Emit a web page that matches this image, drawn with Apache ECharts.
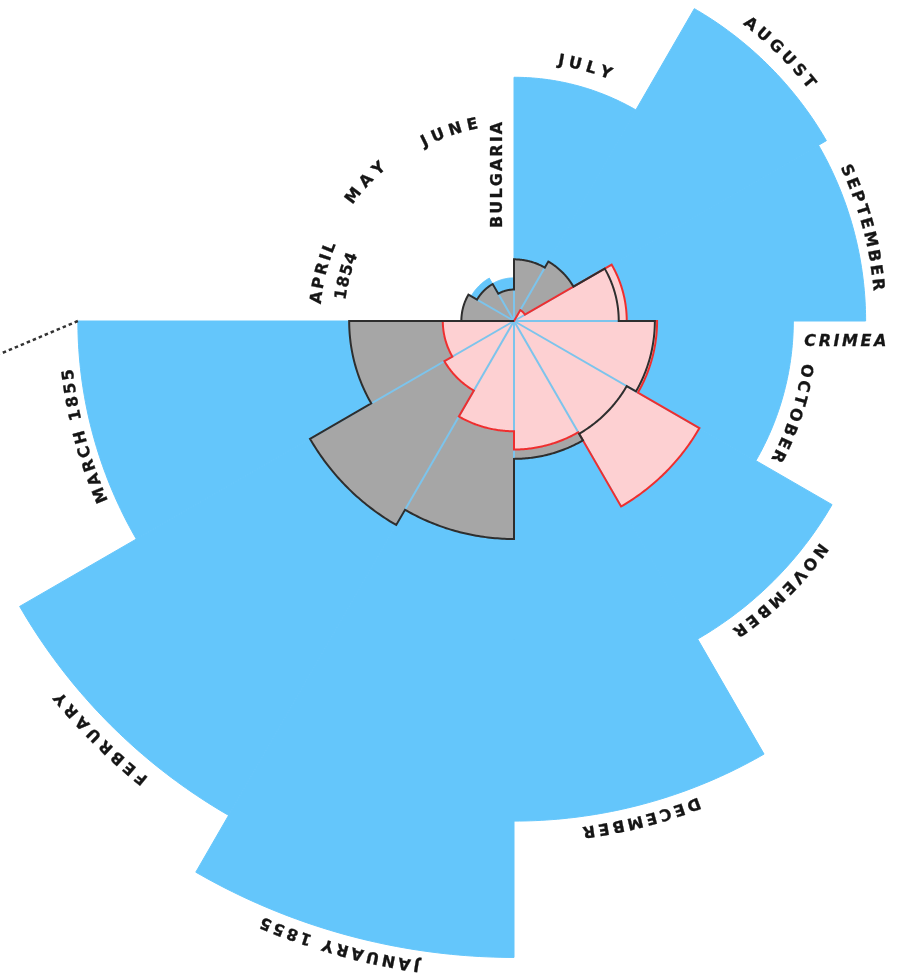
<!DOCTYPE html>
<html>
<head>
<meta charset="utf-8">
<script src="https://cdn.jsdelivr.net/npm/echarts@6/dist/echarts.min.js"></script>
<style>
html,body{margin:0;padding:0;background:#ffffff;}
#c{width:905px;height:977px;}
</style>
</head>
<body>
<div id="c"></div>
<script>
// ---- DATA: Crimean War mortality, April 1854 – March 1855 (annual rate per 1000) ----
const months = ['APRIL 1854','MAY','JUNE','JULY','AUGUST','SEPTEMBER','OCTOBER','NOVEMBER','DECEMBER','JANUARY 1855','FEBRUARY','MARCH 1855'];
const diseaseRate = [1.4, 6.2, 4.7, 150.0, 328.5, 312.2, 197.0, 340.6, 631.5, 1022.8, 822.8, 480.3];
const woundsRate  = [0, 0, 0, 0, 0.4, 32.1, 51.7, 115.8, 41.7, 30.7, 16.3, 12.8];
const otherRate   = [7.0, 4.6, 2.5, 9.6, 11.9, 27.7, 50.1, 42.8, 48.0, 120.0, 140.1, 68.6];

// month label texts (curved along the rim)
const labelText  = ['APRIL','1854','MAY','JUNE','JULY','AUGUST','SEPTEMBER','OCTOBER','NOVEMBER','DECEMBER','JANUARY 1855','FEBRUARY','MARCH 1855'];
// region names (straight text)
const regionText = ['BULGARIA','CRIMEA'];

// ---- LAYOUT (positions / sizes / styles) ----
const labelAngle  = [0.47, 0.50, 1.43, 2.37, 3.52, 4.49, 5.50, 6.61, 7.51, 8.52, 9.52, 10.49, 11.50];
const labelRadius = [198, 174, 203, 200, 264, 379, 365, 296, 382, 515, 651, 589, 448];
const labelSpan   = [63, 48, 51, 59, 55, 94, 130, 103, 126, 121, 165, 124, 138];
const regionAngle  = [2.79, 6.12];
const regionRadius = [147, 332];
const regionRotate = [90, 0];
const regionSpan   = [106, 82];
const regionItalic = [false, true];

const M = 40;            // radius axis max (sqrt of rate)
const PX_PER_UNIT = 19.9;
const CENTER = [514, 321];
const FONT = 'bold 16px "DejaVu Sans", sans-serif';
const FONT_IT = 'italic bold 16px "DejaVu Sans", sans-serif';
const BLUE = '#64c6fb', GRAY = '#a6a6a6', PINK = '#fdd0d2';
const DARK = '#2e2e2e', RED = '#ee2f2f', SPOKE = '#7cc4ec', TEXT = '#151515';

// area-proportional wedges: radius ∝ sqrt(rate)
const rDisease = diseaseRate.map(Math.sqrt);
const rWounds  = woundsRate.map(Math.sqrt);
const rOther   = otherRate.map(Math.sqrt);

const xy = p => [p[0], p[1]];
const N = 48;

function wedgeSeries(vals, fill, z) {
  return {
    type: 'custom', coordinateSystem: 'polar', z: z, silent: true,
    data: vals.map((v, i) => [v, i]),
    renderItem: (params, api) => {
      const v = api.value(0), i = api.value(1);
      if (!(v > 0)) return null;
      const pts = [xy(api.coord([0, i]))];
      for (let j = 0; j <= N; j++) pts.push(xy(api.coord([v, i + j / N])));
      return { type: 'polygon', shape: { points: pts },
               style: { fill: fill, stroke: fill, lineWidth: 1, lineJoin: 'round' } };
    }
  };
}

function outlineSeries(vals, stroke, z) {
  return {
    type: 'custom', coordinateSystem: 'polar', z: z, silent: true,
    data: [[Math.max.apply(null, vals), 0]],
    renderItem: (params, api) => {
      const pts = [xy(api.coord([0, 0]))];
      vals.forEach((v, i) => {
        for (let j = 0; j <= N; j++) pts.push(xy(api.coord([v, i + j / N])));
      });
      return { type: 'polygon', shape: { points: pts },
               style: { fill: 'none', stroke: stroke, lineWidth: 2, lineJoin: 'miter' } };
    }
  };
}

// light-blue spokes on every month boundary, as far as the grey/red wedges reach
const spokeLen = months.map((_, b) => {
  const p = (b + 11) % 12;
  return Math.max(rOther[p], rWounds[p], rOther[b], rWounds[b]);
});

const measureCtx = document.createElement('canvas').getContext('2d');

function charLayout(text, font, span) {
  measureCtx.font = font;
  const chars = Array.from(text);
  const ws = chars.map(ch => measureCtx.measureText(ch).width);
  const total = ws.reduce((s, w) => s + w, 0);
  const gap = chars.length > 1 ? (span - total) / (chars.length - 1) : 0;
  let s = 0;
  return chars.map((ch, j) => {
    const c = s + ws[j] / 2;
    s += ws[j] + gap;
    return { ch: ch, off: c - span / 2 };
  });
}

function textStyle(ch, font) {
  return { text: ch, font: font, fill: TEXT, stroke: TEXT, lineWidth: 0.3,
           align: 'center', verticalAlign: 'middle', textAlign: 'center', textVerticalAlign: 'middle' };
}

const option = {
  animation: false,
  backgroundColor: '#ffffff',
  polar: { center: CENTER, radius: PX_PER_UNIT * M },
  angleAxis: { type: 'value', min: 0, max: 12, startAngle: 180, clockwise: true, show: false },
  radiusAxis: { type: 'value', min: 0, max: M, show: false },
  series: [
    wedgeSeries(rDisease, BLUE, 1),
    wedgeSeries(rOther, GRAY, 2),
    wedgeSeries(rWounds, PINK, 3),
    {
      type: 'custom', coordinateSystem: 'polar', z: 4, silent: true,
      data: spokeLen.map((v, b) => [v, b]),
      renderItem: (params, api) => {
        const a = xy(api.coord([0, api.value(1)]));
        const b = xy(api.coord([api.value(0), api.value(1)]));
        return { type: 'line', shape: { x1: a[0], y1: a[1], x2: b[0], y2: b[1] },
                 style: { stroke: SPOKE, lineWidth: 2 } };
      }
    },
    outlineSeries(rWounds, RED, 5),
    outlineSeries(rOther, DARK, 6),
    // dotted connector from the March 1855 corner
    {
      type: 'custom', coordinateSystem: 'polar', z: 7, silent: true,
      data: [[rDisease[11], 12]],
      renderItem: (params, api) => {
        const p = xy(api.coord([api.value(0), api.value(1)]));
        return { type: 'line', shape: { x1: p[0], y1: p[1], x2: 0, y2: p[1] + p[0] * 0.423 },
                 style: { stroke: '#333333', lineWidth: 2.5, lineDash: [3.5, 3] } };
      }
    },
    // curved month labels
    {
      type: 'custom', coordinateSystem: 'polar', z: 8, silent: true,
      data: labelText.map((t, i) => [0, labelAngle[i]]),
      renderItem: (params, api) => {
        const k = params.dataIndex;
        const R = labelRadius[k], a0 = labelAngle[k];
        const c = xy(api.coord([0, 0]));
        const children = [];
        charLayout(labelText[k], FONT, labelSpan[k]).forEach(o => {
          if (o.ch === ' ') return;
          const a = a0 + o.off / R / (2 * Math.PI) * 12;
          const p = xy(api.coord([1, a]));
          const dx = p[0] - c[0], dy = p[1] - c[1], L = Math.hypot(dx, dy);
          const ux = dx / L, uy = dy / L;
          const rot = -Math.atan2(ux, -uy);
          children.push({ type: 'text', x: c[0] + ux * R, y: c[1] + uy * R, rotation: rot,
                          style: textStyle(o.ch, FONT) });
        });
        return { type: 'group', children: children };
      }
    },
    // straight region labels
    {
      type: 'custom', coordinateSystem: 'polar', z: 8, silent: true,
      data: regionText.map((t, i) => [0, regionAngle[i]]),
      renderItem: (params, api) => {
        const k = params.dataIndex;
        const R = regionRadius[k];
        const c = xy(api.coord([0, 0]));
        const p = xy(api.coord([1, regionAngle[k]]));
        const dx = p[0] - c[0], dy = p[1] - c[1], L = Math.hypot(dx, dy);
        const cx = c[0] + dx / L * R, cy = c[1] + dy / L * R;
        const rotRad = regionRotate[k] * Math.PI / 180;
        const font = regionItalic[k] ? FONT_IT : FONT;
        const dirx = Math.cos(rotRad), diry = -Math.sin(rotRad);
        const children = [];
        charLayout(regionText[k], font, regionSpan[k]).forEach(o => {
          children.push({ type: 'text', x: cx + dirx * o.off, y: cy + diry * o.off, rotation: rotRad,
                          style: textStyle(o.ch, font) });
        });
        return { type: 'group', children: children };
      }
    }
  ]
};

const chart = echarts.init(document.getElementById('c'), null, { renderer: 'canvas' });
chart.setOption(option);
</script>
</body>
</html>
